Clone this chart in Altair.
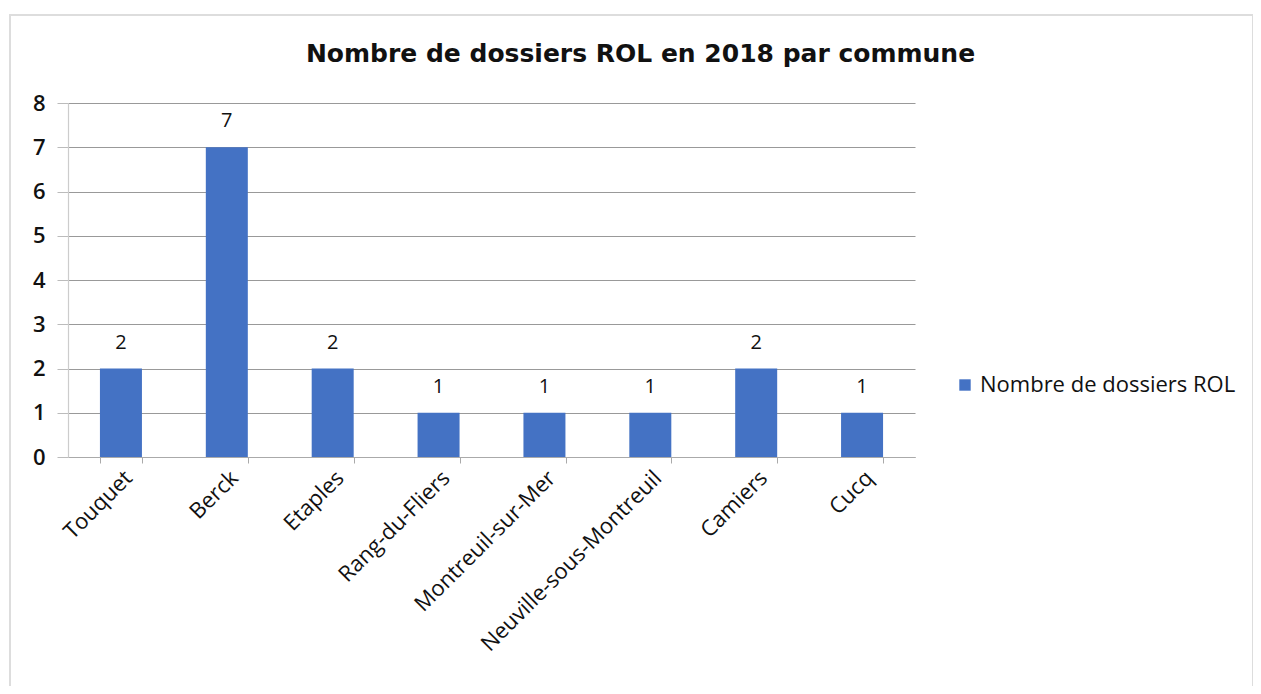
import altair as alt
import pandas as pd

communes = ["Touquet", "Berck", "Etaples", "Rang-du-Fliers", "Montreuil-sur-Mer",
            "Neuville-sous-Montreuil", "Camiers", "Cucq"]
valeurs = [2, 7, 2, 1, 1, 1, 2, 1]
serie = "Nombre de dossiers ROL"

df = pd.DataFrame({"commune": communes, "valeur": valeurs, "serie": [serie] * len(communes)})

W, H = 847, 354
FONT = "Open Sans"

x = alt.X("commune:N", sort=communes, title=None,
          scale=alt.Scale(paddingInner=0.6, paddingOuter=0.3),
          axis=alt.Axis(labelAngle=-45, labelFontSize=22, labelColor="#111",
                        labelFont=FONT, tickBand="extent", domainColor="#aaa",
                        tickColor="#aaa", tickSize=6, labelPadding=4, labelLimit=400))
y = alt.Y("valeur:Q", title=None,
          scale=alt.Scale(domain=[0, 8], nice=False),
          axis=alt.Axis(values=list(range(9)), labelFontSize=22, labelColor="#111",
                        labelFont=FONT, labelFontWeight=600, gridColor="#999", gridWidth=1.2,
                        domainColor="#ccc", ticks=True, tickSize=11, tickColor="#bbb",
                        labelPadding=12))

bars = alt.Chart(df).mark_bar(size=42).encode(
    x=x, y=y,
    color=alt.Color("serie:N", scale=alt.Scale(range=["#4472C4"]), title=None,
                    legend=alt.Legend(orient="none", legendX=886, legendY=271,
                                      symbolType="square", symbolSize=130,
                                      labelFontSize=22, labelFont=FONT,
                                      labelColor="#111", labelLimit=400))
)

labels = alt.Chart(df).mark_text(baseline="bottom", dy=-16, fontSize=20, font=FONT,
                                 fontWeight=500, color="#111").encode(
    x=alt.X("commune:N", sort=communes), y="valeur:Q", text="valeur:Q")

border = alt.Chart(df).mark_rect(fill=None, stroke="#ddd", strokeWidth=1.5).encode(
    x=alt.value(-58), x2=alt.value(1185), y=alt.value(-88), y2=alt.value(585))

chart = alt.layer(border, bars, labels).properties(
    width=W, height=H,
    autosize=alt.AutoSizeParams(type="none"),
    padding={"left": 60, "top": 95, "right": 338, "bottom": 229},
    title=alt.TitleParams("Nombre de dossiers ROL en 2018 par commune",
                          fontSize=25, font="DejaVu Sans", fontWeight="bold",
                          color="#111", anchor="middle", dx=149, offset=-53),
).configure_view(stroke=None).configure_axis(domainWidth=1.2)

chart.save("out.html", embed_options={"renderer": "svg", "actions": False})
